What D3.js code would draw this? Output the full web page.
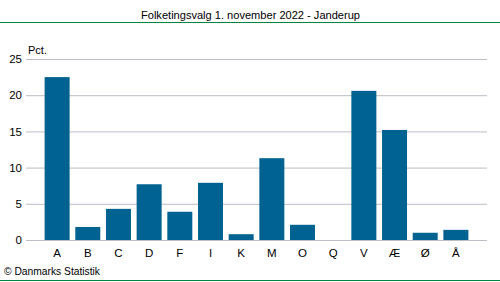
<!DOCTYPE html>
<html><head><meta charset="utf-8">
<script src="https://cdn.jsdelivr.net/npm/d3@7"></script>
<style>body{margin:0;background:#fff}svg{display:block;font-family:"Liberation Sans",Arial,sans-serif}</style>
</head><body>
<svg id="c" width="500" height="282"></svg>
<script>
const categories = ["A","B","C","D","F","I","K","M","O","Q","V","Æ","Ø","Å"];
const values = [22.5,1.8,4.3,7.7,3.9,7.9,0.8,11.3,2.1,0,20.6,15.2,1.0,1.4];
const yTicks = [0,5,10,15,20,25];
const title = "Folketingsvalg 1. november 2022 - Janderup";

(function(){
const svg = d3.select("#c");
const mLeft = 26, mRight = 487, mTop = 59, mBottom = 240;
const x = d3.scaleBand().domain(categories).range([mLeft,mRight]).paddingInner(0.185).paddingOuter(0.607);
const y = d3.scaleLinear().domain([0,25]).range([mBottom,mTop]);

svg.append("text").attr("x",250.5).attr("y",19).attr("text-anchor","middle").attr("font-size",11)
  .attr("textLength",219).attr("lengthAdjust","spacingAndGlyphs").attr("fill","#000").text(title);
svg.append("line").attr("x1",0).attr("x2",500).attr("y1",22.5).attr("y2",22.5).attr("stroke","#00843d").attr("stroke-width",1.2);
svg.append("line").attr("x1",0).attr("x2",500).attr("y1",280.5).attr("y2",280.5).attr("stroke","#00843d").attr("stroke-width",1.2);

const yAxis = svg.append("g").attr("transform",`translate(${mLeft},0)`)
  .call(d3.axisLeft(y).tickValues(yTicks).tickSize(-(mRight-mLeft)).tickPadding(4));
yAxis.select(".domain").remove();
yAxis.selectAll(".tick line").attr("stroke","#bcbcc6").attr("stroke-width",1);
yAxis.selectAll(".tick text").attr("font-size",11.5).attr("fill","#000").attr("font-family","Liberation Sans, Arial, sans-serif");

svg.append("g").selectAll("rect").data(categories).join("rect")
  .attr("x",d=>x(d)).attr("width",x.bandwidth())
  .attr("y",(d,i)=>y(values[i])).attr("height",(d,i)=>y(0)-y(values[i]))
  .attr("fill","#006290");

const xAxis = svg.append("g").attr("transform",`translate(0,${mBottom})`)
  .call(d3.axisBottom(x).tickSize(0).tickPadding(9));
xAxis.select(".domain").remove();
xAxis.selectAll(".tick text").attr("font-size",11.5).attr("fill","#000").attr("font-family","Liberation Sans, Arial, sans-serif");

svg.append("text").attr("x",28).attr("y",54).attr("font-size",11).attr("fill","#000").text("Pct.");
svg.append("text").attr("x",4).attr("y",275).attr("font-size",11)
  .attr("textLength",96).attr("lengthAdjust","spacingAndGlyphs").attr("fill","#000").text("© Danmarks Statistik");
})();
</script>
</body></html>
